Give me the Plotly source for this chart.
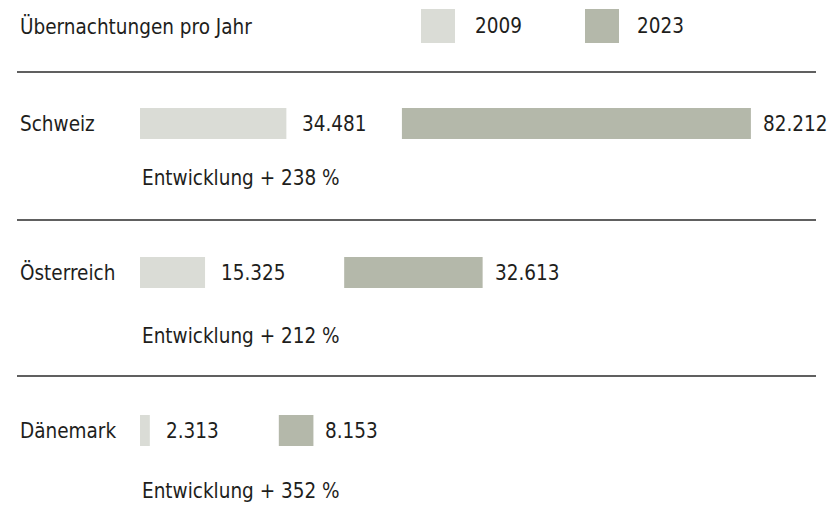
import plotly.graph_objects as go

# ---- data ----
countries = ["Schweiz", "Österreich", "Dänemark"]
years = ["2009", "2023"]
values_2009 = [34481, 15325, 2313]
values_2023 = [82212, 32613, 8153]
title_text = "Übernachtungen pro Jahr"
note_prefix = "Entwicklung + "

# ---- layout constants (pixels / styling) ----
W, H = 834, 506
PX_PER_UNIT = 4.245 / 1000.0      # horizontal scale
X0_PX = 140                       # where bars start
bar2023_start = [61700, 48100, 32700]   # start of the 2023 bar, in data units
row_y = [123.5, 272.5, 430.5]
note_y = [178, 335.5, 490.5]
rule_y = [72, 220, 376]
col_2009 = "#dadcd6"
col_2023 = "#b4b8aa"
txt_col = "#1e1e1c"
FONT = "'DejaVu Sans Condensed', 'Liberation Sans Narrow', sans-serif"
FS = 20.5


def fmt(v):
    return f"{v:,}".replace(",", ".")


fig = go.Figure()
fig.add_trace(go.Bar(
    y=row_y, x=values_2009, base=[0] * len(values_2009), orientation="h",
    width=31, marker=dict(color=col_2009, line=dict(width=0)), name=years[0],
    hoverinfo="skip", showlegend=False))
fig.add_trace(go.Bar(
    y=row_y, x=values_2023, base=bar2023_start, orientation="h",
    width=31, marker=dict(color=col_2023, line=dict(width=0)), name=years[1],
    hoverinfo="skip", showlegend=False))

ann = []
font = dict(family=FONT, size=FS, color=txt_col)
for i, c in enumerate(countries):
    ann.append(dict(x=18 / W, xref="paper", y=row_y[i], yref="y", text=c,
                    xanchor="left", yanchor="middle", showarrow=False, font=font))
    ann.append(dict(x=values_2009[i], xref="x", y=row_y[i], yref="y", text=fmt(values_2009[i]),
                    xanchor="left", yanchor="middle", xshift=14, showarrow=False, font=font))
    ann.append(dict(x=bar2023_start[i] + values_2023[i], xref="x", y=row_y[i], yref="y",
                    text=fmt(values_2023[i]), xanchor="left", yanchor="middle", xshift=10,
                    showarrow=False, font=font))
    pct = int(values_2023[i] / values_2009[i] * 100)
    ann.append(dict(x=0, xref="x", y=note_y[i], yref="y", text=f"{note_prefix}{pct} %",
                    xanchor="left", yanchor="middle", showarrow=False, font=font))

# header + legend
ann.append(dict(x=18 / W, xref="paper", y=26, yref="y", text=title_text,
                xanchor="left", yanchor="middle", showarrow=False, font=font))
leg_sq_x = [421, 585]
leg_txt_x = [473, 635]
shapes = []
for j, (yr, col) in enumerate(zip(years, [col_2009, col_2023])):
    shapes.append(dict(type="rect", xref="paper", yref="y",
                       x0=leg_sq_x[j] / W, x1=(leg_sq_x[j] + 34) / W, y0=9, y1=43,
                       fillcolor=col, line=dict(width=0), layer="below"))
    ann.append(dict(x=leg_txt_x[j] / W, xref="paper", y=26, yref="y", text=yr,
                    xanchor="left", yanchor="middle", showarrow=False, font=font))

for yy in rule_y:
    shapes.append(dict(type="line", xref="paper", yref="y", x0=17 / W, x1=816 / W,
                       y0=yy, y1=yy, line=dict(color="#2b2b2b", width=1.3)))

fig.update_layout(
    width=W, height=H, margin=dict(l=0, r=0, t=0, b=0),
    paper_bgcolor="white", plot_bgcolor="white",
    barmode="overlay", showlegend=False,
    xaxis=dict(range=[-X0_PX / PX_PER_UNIT, (W - X0_PX) / PX_PER_UNIT], visible=False,
               fixedrange=True),
    yaxis=dict(range=[H, 0], visible=False, fixedrange=True),
    annotations=ann, shapes=shapes, font=dict(family=FONT, color=txt_col),
)

fig.write_html("out.html", config={"displayModeBar": False},
               post_script="document.body.style.margin='0';document.body.style.overflow='hidden';")
